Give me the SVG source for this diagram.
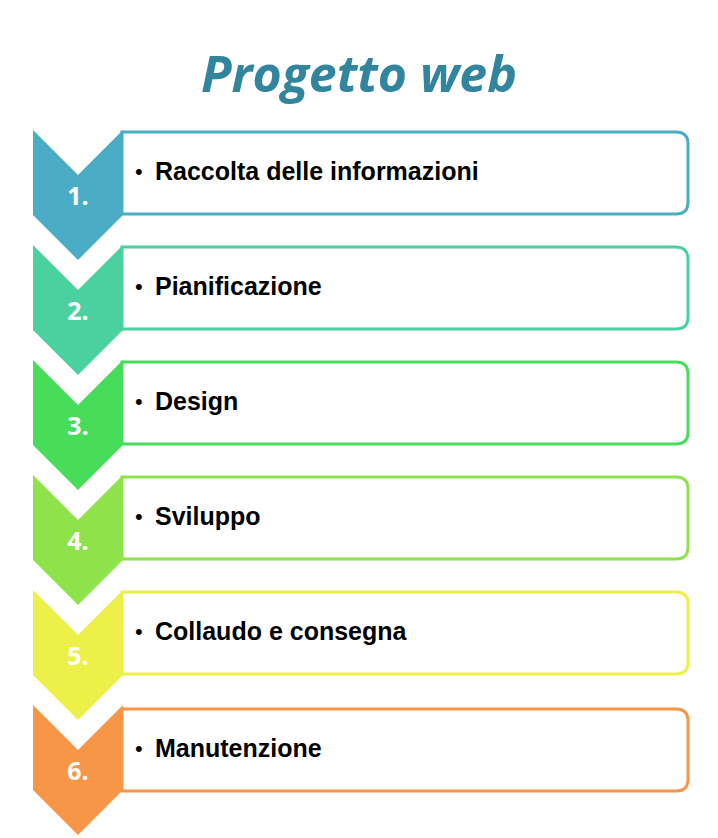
<svg xmlns="http://www.w3.org/2000/svg" width="718" height="838" viewBox="0 0 718 838">
<style>
.title{font-family:"Open Sans","Noto Sans",sans-serif;font-weight:bold;font-style:italic;font-size:50px;fill:#31869E}
.num{font-family:"Open Sans","Noto Sans",sans-serif;font-weight:bold;font-size:25px;fill:#FFFFFF;text-anchor:middle}
.lbl{font-family:"Liberation Sans",Arial,sans-serif;font-weight:bold;font-size:25px;fill:#000000}
.bul{font-family:"Liberation Sans",Arial,sans-serif;font-size:22px;fill:#000000}
.box{fill:#FFFFFF;stroke-width:3}
</style>
<defs>
<path id="chev" d="M0,0 L45,45 L90,0 L90,85 L45,130 L0,85 Z"/>
<path id="boxp" d="M0,0 L554,0 Q566,0 566,12 L566,70 Q566,82 554,82 L0,82 Z"/>
</defs>
<rect width="718" height="838" fill="#FFFFFF"/>
<text class="title" x="359" y="92" text-anchor="middle">Progetto web</text>
<g id="step1">
<use href="#boxp" x="122" y="132" class="box" stroke="#4BACC6"/>
<use href="#chev" x="33" y="130" fill="#4BACC6"/>
<text class="num" x="78" y="205">1.</text>
<text class="bul" x="135" y="179">•</text>
<text class="lbl" x="155" y="180">Raccolta delle informazioni</text>
</g>
<g id="step2">
<use href="#boxp" x="122" y="247" class="box" stroke="#4BD0A0"/>
<use href="#chev" x="33" y="245" fill="#4BD0A0"/>
<text class="num" x="78" y="320">2.</text>
<text class="bul" x="135" y="294">•</text>
<text class="lbl" x="155" y="295">Pianificazione</text>
</g>
<g id="step3">
<use href="#boxp" x="122" y="362" class="box" stroke="#47DC5A"/>
<use href="#chev" x="33" y="360" fill="#47DC5A"/>
<text class="num" x="78" y="435">3.</text>
<text class="bul" x="135" y="409">•</text>
<text class="lbl" x="155" y="410">Design</text>
</g>
<g id="step4">
<use href="#boxp" x="122" y="477" class="box" stroke="#8EE24A"/>
<use href="#chev" x="33" y="475" fill="#8EE24A"/>
<text class="num" x="78" y="550">4.</text>
<text class="bul" x="135" y="524">•</text>
<text class="lbl" x="155" y="525">Sviluppo</text>
</g>
<g id="step5">
<use href="#boxp" x="122" y="592" class="box" stroke="#EEF04A"/>
<use href="#chev" x="33" y="590" fill="#EEF04A"/>
<text class="num" x="78" y="665">5.</text>
<text class="bul" x="135" y="639">•</text>
<text class="lbl" x="155" y="640">Collaudo e consegna</text>
</g>
<g id="step6">
<use href="#boxp" x="122" y="709" class="box" stroke="#F79646"/>
<use href="#chev" x="33" y="705" fill="#F79646"/>
<text class="num" x="78" y="780">6.</text>
<text class="bul" x="135" y="756">•</text>
<text class="lbl" x="155" y="757">Manutenzione</text>
</g>
<g id="connectors"/>
</svg>
